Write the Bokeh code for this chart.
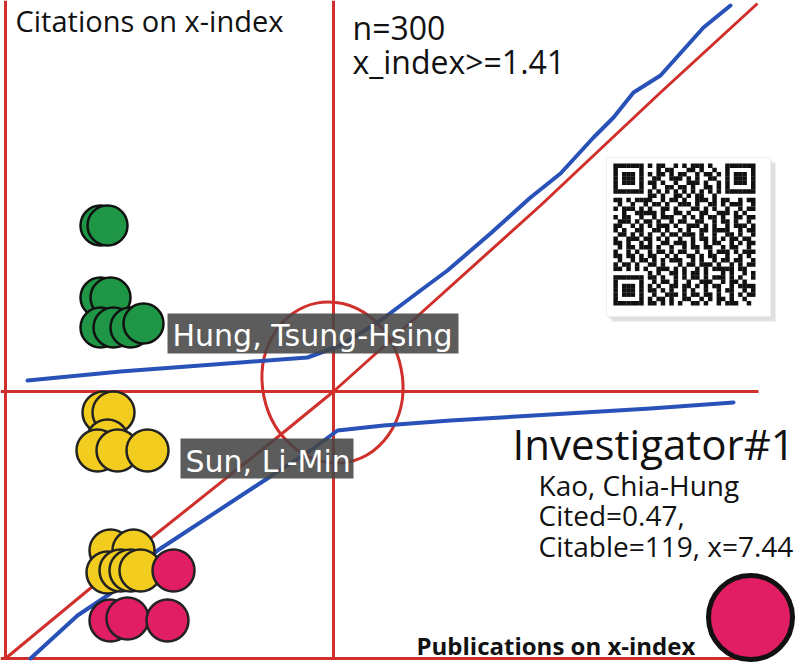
from bokeh.plotting import figure
from bokeh.models import Range1d
from bokeh.core.properties import value
from bokeh.embed import file_html
from bokeh.resources import INLINE

# ---------------- data (image-like coordinates: x right, y down) ----------------
# reference grid lines
ref_v_x = [5, 333]
ref_v_top = [0, 0]
ref_v_bottom = [658, 658]
ref_h_y = [391, 658]
ref_h_left = [0, 0]
ref_h_right = [758, 760]

# red diagonal (equality line)
diag_x = [5, 150, 273, 333, 420, 540, 660, 757]
diag_y = [658, 538, 440, 391, 313, 205, 92, 3]

# upper blue curve
blue1_x = [27, 120, 240, 307, 340, 380, 420, 447, 490, 530, 560, 593, 613, 633, 660, 703, 730]
blue1_y = [380, 371, 362, 357, 345, 320, 290, 270, 233, 197, 173, 137, 117, 92, 75, 27, 5]

# lower blue curve
blue2_x = [30, 77, 110, 157, 253, 310, 337, 383, 450, 550, 650, 733]
blue2_y = [658, 615, 593, 550, 487, 450, 430, 425, 420, 414, 408, 402]

# ellipse around the centre
ell_x = [332]
ell_y = [382]
ell_w = [140]
ell_h = [162]

# clusters of points
green_x = [100, 107, 100, 110, 100, 113, 130, 143]
green_y = [225, 225, 297, 297, 327, 327, 327, 323]
yellow_x = [103, 113, 107, 97, 117, 147, 110, 133, 107, 120, 130, 140]
yellow_y = [412, 412, 440, 450, 450, 450, 550, 550, 572, 570, 570, 570]
pink_x = [173, 110, 127, 167]
pink_y = [570, 620, 618, 620]
big_x = [750]
big_y = [617]

# labelled names
name_text = ["Hung, Tsung-Hsing", "Sun, Li-Min"]
name_left = [167, 180]
name_right = [458, 353]
name_top = [313, 438]
name_bottom = [353, 478]
name_base = [343, 469]

# QR code card
qr_card = [606, 770, 157, 316]  # left, right, top, bottom
qr_rows = [
    "#######.#.##..#.#.###.#...#######",
    "#.....#...#.##...##.#..#..#.....#",
    "#.###.#.#.##.#.##..#.##.#.#.###.#",
    "#.###.#..##..###.#.#..##..#.###.#",
    "#.###.#.##.#..#..###.#..#.#.###.#",
    "#.....#..#..##.##.#..##.#.#.....#",
    "#######.#.#.#.#.#.#.#.#.#.#######",
    "........##.#..##.#.##..#.........",
    "##.#.####..#.##.#..###.#.##..#.##",
    ".#..#..#.##.#..###.#..##.#.###..#",
    "#.###.#.#..##.#...##.#.#..#..#.##",
    "..#..#####.#..##.#..##..###.#.#..",
    "#.##..#..#.###..#.#.#.##.#..##.##",
    ".###.#.##.#..#.##..##..#.##.#..#.",
    "##..#.#.#.###.#..###.#.#..#.###.#",
    "#.#..##..##.#..#.#..##.####..#.##",
    ".##.#.#.#..#.##.###.#..#..##.#..#",
    "#..###.##.#.#..#..#.##.#.#.##.##.",
    "##.#..#.#..##.###.#..#.##..#.#.##",
    ".#.##.###.#..#..#.##.##..#.##..#.",
    "#..#.#..#.##.#.##..#..#.###.#.###",
    "##.##.#.##..#.#..##.#.##..#..#.#.",
    ".#..#.##.#.#.###..#.#..#.##.##..#",
    "#.##.#..##.#...#.##.###.#..#.#.##",
    "##.#.#.#..###.#.#..#.#.#####.##..",
    "........#.#..##.#.##.#...#.#..#.#",
    "#######.##.#..#.#.##.#.###.#.#..#",
    "#.....#..#.##.#..#..###..#.##.#..",
    "#.###.#.#.#..##.##.#.#.##..#.####",
    "#.###.#.##.#.#..#.#..#..#.##..#.#",
    "#.###.#..#..###.#.##.##.#..#.#.##",
    "#.....#.#.##.#..##..#.#.##.#..#..",
    "#######.##.#.#.#..##.#..#.###..#.",
]
qr_origin = [613, 163]
qr_module = 4.3

# free texts
header_text = ["Citations on x-index"]
header_x = [15]
header_y = [28]
info_text = ["n=300", "x_index>=1.41"]
info_x = [352, 352]
info_y = [36, 70]
inv_title = ["Investigator#1"]
inv_x = [512]
inv_y = [455]
inv_lines = ["Kao, Chia-Hung", "Cited=0.47,", "Citable=119, x=7.44"]
inv_lines_x = [538, 538, 538]
inv_lines_y = [492, 522, 553]
xlab_text = ["Publications on x-index"]
xlab_x = [416]
xlab_y = [652]

RED = "#d0302c"
BLUE = "#2852b8"
FONT = "Open Sans"
BASE_SHIFT = 0.28  # renderer places the alphabetic baseline lower; compensate (em units)


def tpos(ys, size):
    return [v - BASE_SHIFT * size for v in ys]


# ---------------- figure ----------------
p = figure(width=800, height=670, x_range=Range1d(0, 800), y_range=Range1d(670, 0),
           output_backend="svg", toolbar_location=None, min_border=0,
           x_axis_location=None, y_axis_location=None)
p.grid.visible = False
p.outline_line_color = None
p.background_fill_color = "white"
p.border_fill_color = "white"

# QR card with soft shadow
l, r, t, b = qr_card
p.quad(left=[l + 5], right=[r + 5], top=[t + 5], bottom=[b + 5], fill_color="#bdbdbd",
       fill_alpha=0.45, line_color=None)
p.quad(left=[l + 2], right=[r + 2], top=[t + 2], bottom=[b + 2], fill_color="#dddddd",
       fill_alpha=0.6, line_color=None)
p.quad(left=[l], right=[r], top=[t], bottom=[b], fill_color="white", line_color="#eeeeee")
qx, qy = [], []
for ri, row in enumerate(qr_rows):
    for ci, ch in enumerate(row):
        if ch == "#":
            qx.append(qr_origin[0] + (ci + 0.5) * qr_module)
            qy.append(qr_origin[1] + (ri + 0.5) * qr_module)
p.rect(x=qx, y=qy, width=qr_module + 0.2, height=qr_module + 0.2, fill_color="#111111",
       line_color=None)

# red reference lines
p.segment(x0=ref_v_x, y0=ref_v_top, x1=ref_v_x, y1=ref_v_bottom, line_color=RED, line_width=3)
p.segment(x0=ref_h_left, y0=ref_h_y, x1=ref_h_right, y1=ref_h_y, line_color=RED, line_width=3)
p.line(diag_x, diag_y, line_color=RED, line_width=3)
p.ellipse(x=ell_x, y=ell_y, width=ell_w, height=ell_h, angle=0.2, fill_color=None,
          line_color=RED, line_width=3)

# blue curves
p.line(blue1_x, blue1_y, line_color=BLUE, line_width=4, line_join="round", line_cap="round")
p.line(blue2_x, blue2_y, line_color=BLUE, line_width=4, line_join="round", line_cap="round")

# point clusters
p.circle(x=green_x, y=green_y, radius=20, fill_color="#1e9646", line_color="#111111", line_width=2.5)
p.circle(x=yellow_x, y=yellow_y, radius=21, fill_color="#f2cd1f", line_color="#222222", line_width=2.5)
p.circle(x=pink_x, y=pink_y, radius=21, fill_color="#e11d64", line_color="#222222", line_width=2.5)
p.circle(x=big_x, y=big_y, radius=42, fill_color="#e11d64", line_color="#111111", line_width=5)

# name labels
p.quad(left=name_left, right=name_right, top=name_top, bottom=name_bottom,
       fill_color="#454545", fill_alpha=0.88, line_color=None)
p.text(x=[v + 5 for v in name_left], y=tpos(name_base, 30), text=name_text, text_color="white",
       text_font=value("DejaVu Sans"), text_font_size="30px", text_baseline="alphabetic")

# texts
p.text(x=header_x, y=tpos(header_y, 29), text=header_text, text_font=value(FONT),
       text_font_size="29px", text_color="#111111", text_baseline="alphabetic")
p.text(x=info_x, y=tpos(info_y, 32), text=info_text, text_font=value(FONT), text_font_size="32px",
       text_color="#111111", text_baseline="alphabetic")
p.text(x=inv_x, y=tpos(inv_y, 42), text=inv_title, text_font=value(FONT), text_font_size="42px",
       text_color="#111111", text_baseline="alphabetic")
p.text(x=inv_lines_x, y=tpos(inv_lines_y, 28), text=inv_lines, text_font=value(FONT),
       text_font_size="28px", text_color="#111111", text_baseline="alphabetic")
p.text(x=xlab_x, y=tpos(xlab_y, 24), text=xlab_text, text_font=value(FONT), text_font_size="24px",
       text_color="#111111", text_font_style="bold", text_baseline="alphabetic")

open("out.html", "w").write(file_html(p, INLINE))
